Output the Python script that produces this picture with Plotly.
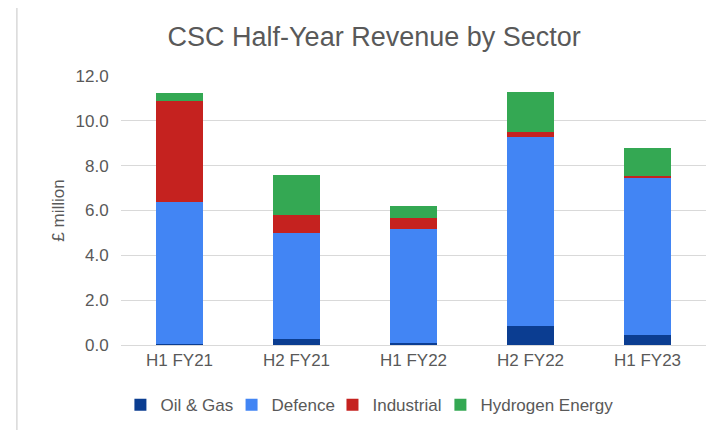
import plotly.graph_objects as go

# half-year periods
periods = ["H1 FY21", "H2 FY21", "H1 FY22", "H2 FY22", "H1 FY23"]

# revenue by sector, £ million
oil_gas = [0.03, 0.27, 0.10, 0.86, 0.43]
defence = [6.35, 4.71, 5.09, 8.44, 7.01]
industrial = [4.50, 0.80, 0.46, 0.18, 0.09]
hydrogen = [0.38, 1.79, 0.57, 1.82, 1.27]

y_ticks = [0, 2, 4, 6, 8, 10, 12]

series = [
    ("Oil & Gas", oil_gas, "#0b3d91"),
    ("Defence", defence, "#4285f4"),
    ("Industrial", industrial, "#c5221f"),
    ("Hydrogen Energy", hydrogen, "#34a853"),
]

grey = "#595959"

# one legend per series so the entries sit where the Excel ones do
legend_keys = ["legend", "legend2", "legend3", "legend4"]
legend_x = [-0.001, 0.189, 0.3615, 0.546]

fig = go.Figure()
for (name, vals, col), lk in zip(series, legend_keys):
    fig.add_trace(go.Bar(x=periods, y=vals, name=name, marker_color=col,
                         marker_line_width=0, legend=lk))

legends = {}
for lk, lx in zip(legend_keys, legend_x):
    legends[lk] = dict(orientation="h", x=lx, xanchor="left",
                       yref="container", y=0.059, yanchor="middle",
                       font=dict(size=17, color=grey), bgcolor="rgba(0,0,0,0)")

# page body has an 8px margin, so the figure is 8px smaller than the window
fig.update_layout(
    barmode="stack",
    bargap=0.6,
    width=718, height=422,
    margin=dict(l=113, r=20, t=68, b=85),
    paper_bgcolor="white", plot_bgcolor="white",
    font=dict(family="Liberation Sans, Arial, sans-serif", color=grey, size=17),
    title=dict(text="CSC Half-Year Revenue by Sector", x=0.51, xanchor="center",
               y=0.932, yanchor="middle", font=dict(size=27, color=grey)),
    showlegend=True,
    **legends,
)
fig.update_xaxes(showline=True, linecolor="#d9d9d9", linewidth=1, ticks="",
                 tickfont=dict(size=17, color=grey))
# invisible ticks push the labels a little further from the plot
fig.update_yaxes(range=[0, 12], tickvals=y_ticks, tickformat=".1f",
                 showgrid=True, gridcolor="#d9d9d9", gridwidth=1, zeroline=False,
                 ticks="outside", ticklen=8, tickcolor="rgba(0,0,0,0)",
                 tickfont=dict(size=17, color=grey),
                 title=dict(text="£ million", font=dict(size=17, color=grey), standoff=6))

# light frame round the chart
fig.add_shape(type="rect", xref="paper", yref="paper",
              x0=-0.178, x1=1.05, y0=-0.4, y1=1.26,
              line=dict(color="#d9d9d9", width=1.5), layer="below")

fig.write_html("out.html")
